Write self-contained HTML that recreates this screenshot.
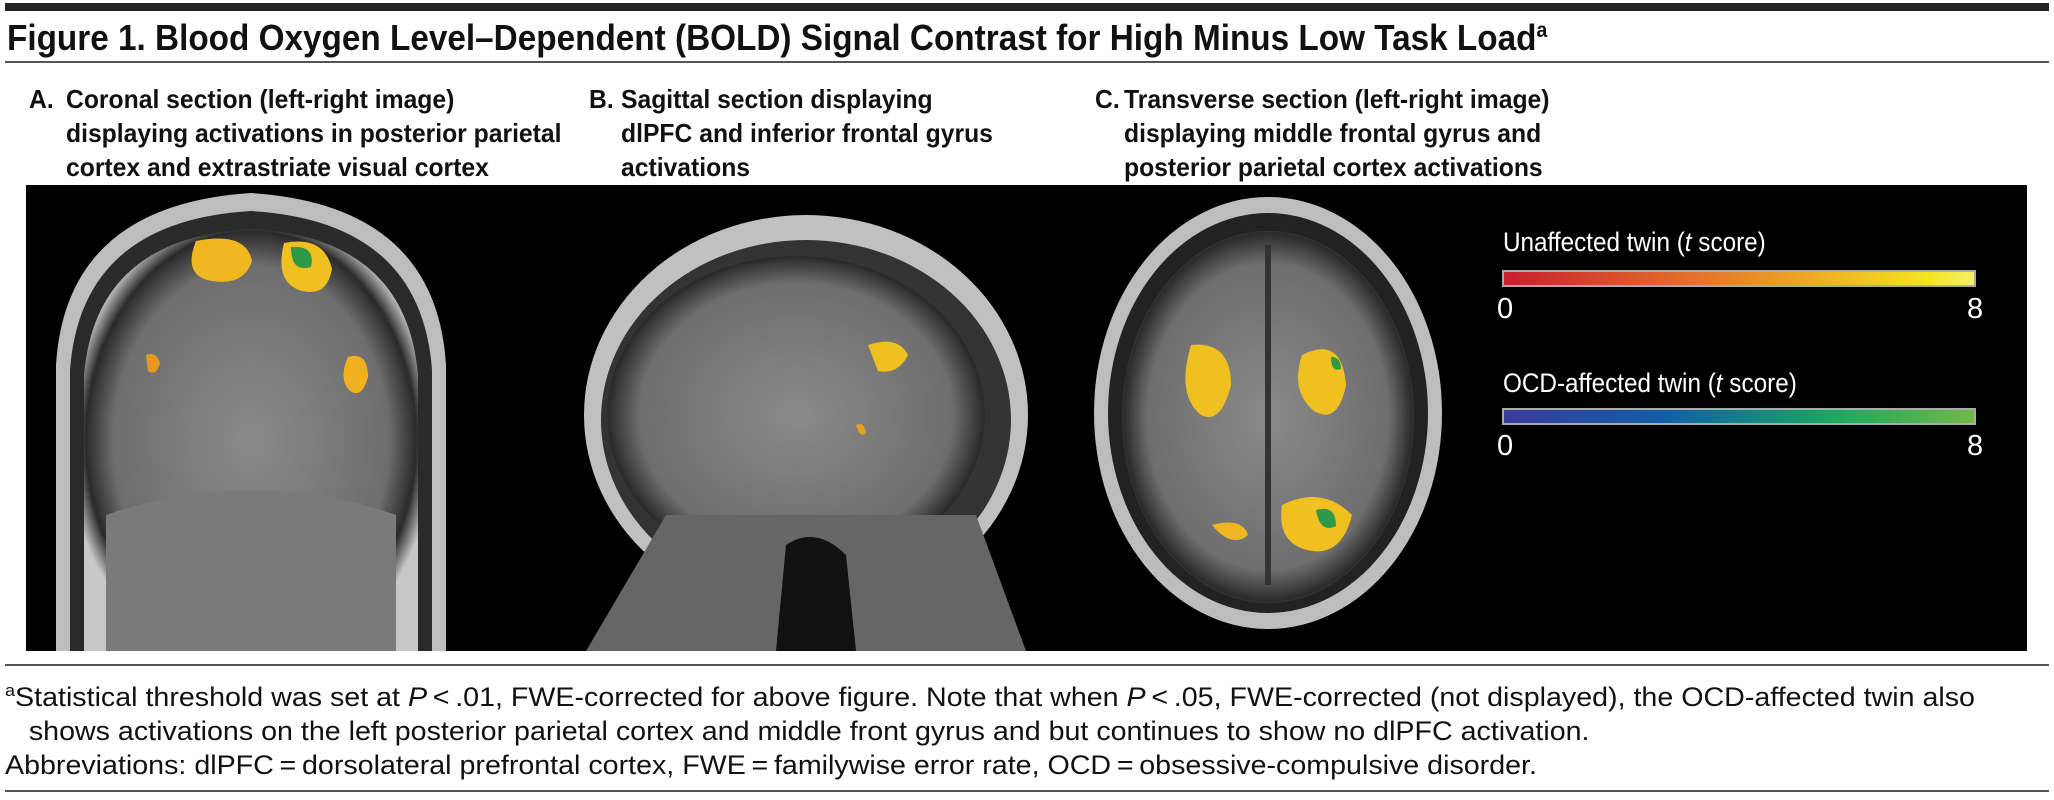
<!DOCTYPE html>
<html><head><meta charset="utf-8"><style>
body{margin:0;width:2054px;height:800px;background:#fff;position:relative;overflow:hidden;font-family:"Liberation Sans",sans-serif;color:#111}
.t{position:absolute;white-space:nowrap;transform-origin:0 0}
.p{position:absolute;white-space:nowrap;transform-origin:0 0;font-size:26px;font-weight:bold;transform:scaleX(0.95)}
.hl{position:absolute;left:5px;width:2044px;background:#222}
</style></head><body>
<div class="hl" style="top:3px;height:8px;background:#222"></div>
<div class="t" style="left:7px;top:17px;font-size:36px;font-weight:bold;transform:scaleX(0.925)">Figure 1. Blood Oxygen Level–Dependent (BOLD) Signal Contrast for High Minus Low Task Load<sup style="font-size:21px">a</sup></div>
<div class="hl" style="top:61px;height:2px;background:#555"></div>

<div class="p" style="left:29px;top:84px">A.</div>
<div class="p" style="left:66px;top:84px">Coronal section (left-right image)</div>
<div class="p" style="left:66px;top:118px">displaying activations in posterior parietal</div>
<div class="p" style="left:66px;top:152px">cortex and extrastriate visual cortex</div>
<div class="p" style="left:589px;top:84px">B.</div>
<div class="p" style="left:621px;top:84px">Sagittal section displaying</div>
<div class="p" style="left:621px;top:118px">dlPFC and inferior frontal gyrus</div>
<div class="p" style="left:621px;top:152px">activations</div>
<div class="p" style="left:1095px;top:84px">C.</div>
<div class="p" style="left:1124px;top:84px">Transverse section (left-right image)</div>
<div class="p" style="left:1124px;top:118px">displaying middle frontal gyrus and</div>
<div class="p" style="left:1124px;top:152px">posterior parietal cortex activations</div>

<svg style="position:absolute;left:26px;top:185px" width="2001" height="466" viewBox="0 0 2001 466">
<defs>
<radialGradient id="g" cx="50%" cy="50%" r="55%"><stop offset="0" stop-color="#8a8a8a"/><stop offset="0.75" stop-color="#6e6e6e"/><stop offset="0.9" stop-color="#2a2a2a"/><stop offset="1" stop-color="#c8c8c8"/></radialGradient>
<linearGradient id="r" x1="0" x2="1"><stop offset="0" stop-color="#c81e2c"/><stop offset="0.5" stop-color="#e8862a"/><stop offset="0.9" stop-color="#f5e51e"/><stop offset="1" stop-color="#f3f070"/></linearGradient>
<linearGradient id="b" x1="0" x2="1"><stop offset="0" stop-color="#3a3a9a"/><stop offset="0.35" stop-color="#1060a8"/><stop offset="0.7" stop-color="#1aa860"/><stop offset="1" stop-color="#72b848"/></linearGradient>
</defs>
<rect width="2001" height="466" fill="#000"/>
<!-- A coronal -->
<path d="M30 466 L30 180 Q40 20 225 8 Q410 20 420 180 L420 466 Z" fill="#bdbdbd"/>
<path d="M44 466 L44 185 Q55 36 225 26 Q395 36 406 185 L406 466 Z" fill="#2a2a2a"/>
<path d="M58 466 L58 190 Q70 52 225 44 Q380 52 392 190 L392 466 Z" fill="url(#g)"/>
<path d="M80 466 L80 330 Q225 280 370 330 L370 466Z" fill="#7a7a7a"/>
<path d="M170 56 q50 -10 56 20 q-8 25 -40 20 q-30 -5 -16 -40z" fill="#f0b820"/>
<path d="M258 58 q40 -8 48 26 q-5 28 -30 22 q-28 -8 -18 -48z" fill="#f0c020"/>
<path d="M265 62 q25 -2 20 20 q-20 6 -20 -20z" fill="#2e9a48"/>
<path d="M322 172 q20 -6 20 20 q-6 22 -18 14 q-12 -12 -2 -34z" fill="#f0b020"/>
<path d="M120 170 q10 -4 14 8 q-4 14 -12 8z" fill="#e89a20"/>
<!-- B sagittal -->
<ellipse cx="780" cy="230" rx="222" ry="200" fill="#c0c0c0"/>
<ellipse cx="780" cy="235" rx="205" ry="180" fill="#333"/>
<ellipse cx="770" cy="230" rx="190" ry="160" fill="url(#g)"/>
<path d="M640 330 L950 330 L1000 466 L560 466Z" fill="#666"/>
<path d="M760 360 q30 -20 60 10 l10 96 l-80 0z" fill="#111"/>
<path d="M842 160 q30 -10 40 10 q-10 20 -30 16z" fill="#f0c020"/>
<path d="M830 240 q8 -4 10 8 q-6 6 -10 -8z" fill="#e8a020"/>
<!-- C transverse -->
<ellipse cx="1242" cy="228" rx="174" ry="216" fill="#bdbdbd"/>
<ellipse cx="1242" cy="228" rx="160" ry="200" fill="#222"/>
<ellipse cx="1242" cy="232" rx="146" ry="186" fill="url(#g)"/>
<rect x="1239" y="60" width="6" height="340" fill="#333"/>
<path d="M1165 160 q40 -4 40 40 q-10 40 -30 30 q-25 -20 -10 -70z" fill="#f0c020"/>
<path d="M1276 170 q40 -20 44 30 q-8 40 -32 26 q-24 -20 -12 -56z" fill="#f0c020"/>
<path d="M1305 172 q10 0 10 12 q-10 4 -10 -12z" fill="#2e9a48"/>
<path d="M1256 320 q40 -20 70 10 q-10 40 -40 36 q-36 -6 -30 -46z" fill="#f0c020"/>
<path d="M1290 325 q20 -6 20 16 q-16 8 -20 -16z" fill="#2e9a48"/>
<path d="M1186 340 q30 -8 36 10 q-16 14 -36 -10z" fill="#f0b820"/>
<!-- legends -->
<text x="1477" y="66" fill="#fff" font-size="27" font-family="Liberation Sans" transform="translate(1477 0) scale(0.9 1) translate(-1477 0)">Unaffected twin (<tspan font-style="italic">t</tspan> score)</text>
<rect x="1477" y="86" width="472" height="15" fill="url(#r)" stroke="#aaa" stroke-width="2"/>
<text x="1471" y="133" fill="#fff" font-size="29" font-family="Liberation Sans">0</text>
<text x="1941" y="133" fill="#fff" font-size="29" font-family="Liberation Sans">8</text>
<text x="1477" y="207" fill="#fff" font-size="27" font-family="Liberation Sans" transform="translate(1477 0) scale(0.9 1) translate(-1477 0)">OCD-affected twin (<tspan font-style="italic">t</tspan> score)</text>
<rect x="1477" y="224" width="472" height="15" fill="url(#b)" stroke="#aaa" stroke-width="2"/>
<text x="1471" y="270" fill="#fff" font-size="29" font-family="Liberation Sans">0</text>
<text x="1941" y="270" fill="#fff" font-size="29" font-family="Liberation Sans">8</text>
</svg>

<div class="hl" style="top:664px;height:2px;background:#555"></div>
<div class="t" style="left:5px;top:674px;font-size:27px;line-height:34px;transform:scaleX(1.06)"><sup style="font-size:17px">a</sup>Statistical threshold was set at <i>P</i>&thinsp;&lt;&thinsp;.01, FWE-corrected for above figure. Note that when <i>P</i>&thinsp;&lt;&thinsp;.05, FWE-corrected (not displayed), the OCD-affected twin also<br>&nbsp;&nbsp;&nbsp;shows activations on the left posterior parietal cortex and middle front gyrus and but continues to show no dlPFC activation.<br>Abbreviations: dlPFC&thinsp;=&thinsp;dorsolateral prefrontal cortex, FWE&thinsp;=&thinsp;familywise error rate, OCD&thinsp;=&thinsp;obsessive-compulsive disorder.</div>
<div class="hl" style="top:790px;height:2px;background:#555"></div>
</body></html>
